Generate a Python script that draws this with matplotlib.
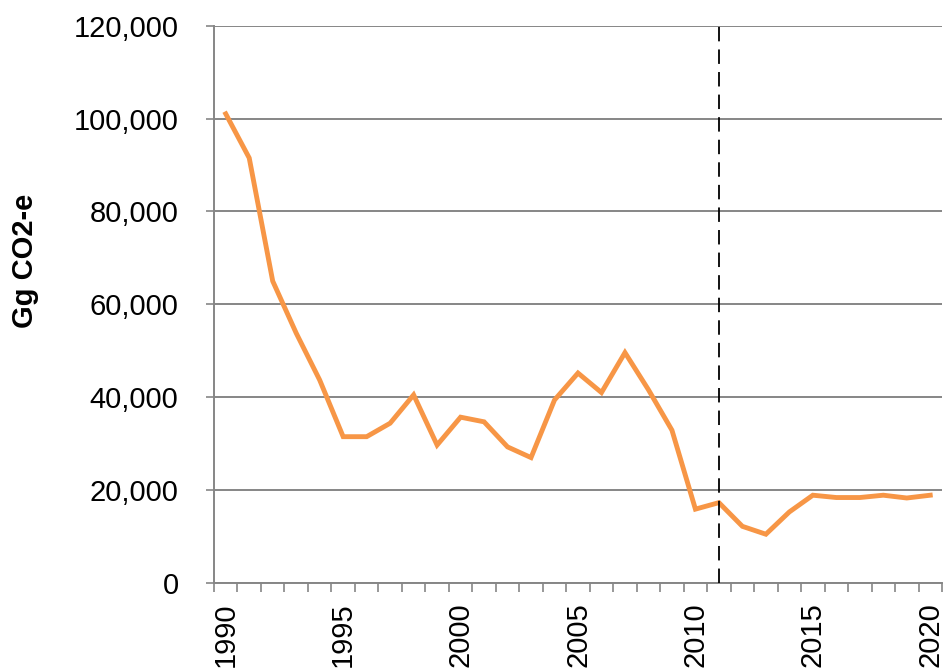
import numpy as np
import matplotlib
matplotlib.use('Agg')
import matplotlib.pyplot as plt
from matplotlib.ticker import FuncFormatter

plt.rcParams['font.family'] = ['Liberation Sans', 'DejaVu Sans']

# --- DATA ---
years = list(range(1990, 2021))
emissions = [101000, 91500, 65000, 53800, 43700, 31500, 31500, 34400, 40500, 29700,
             35700, 34700, 29300, 27000, 39400, 45200, 41000, 49600, 41600, 32900,
             15900, 17300, 12200, 10500, 15300, 18900, 18400, 18400, 18900, 18300,
             18900]
label_years = [1990, 1995, 2000, 2005, 2010, 2015, 2020]
marker_year = 2011
y_ticks = [0, 20000, 40000, 60000, 80000, 100000, 120000]

GRID = '#868686'
ORANGE = '#F79646'

# --- PLOT ---
fig = plt.figure(figsize=(9.43, 6.7), dpi=100)
ax = fig.add_axes([214 / 943, 1 - 583 / 670, 728 / 943, (583 - 25.6) / 670])

idx = np.arange(len(years))
ax.plot(idx, emissions, color=ORANGE, linewidth=3.5, solid_joinstyle='miter', zorder=3)

# dashed marker line
ax.axvline(years.index(marker_year), color='black', linewidth=1.3,
           dashes=(8, 4.5), zorder=4)

ax.set_xlim(-0.5, len(years) - 0.5)
ax.set_ylim(0, 120000)

# x axis: labels every five years, ticks between categories
ax.set_xticks([years.index(y) for y in label_years])
ax.set_xticklabels([str(y) for y in label_years], fontsize=21, rotation=90)
ax.set_xticks(np.arange(-0.5, len(years), 1), minor=True)
ax.tick_params(axis='x', which='major', length=0, pad=14)
ax.tick_params(axis='x', which='minor', length=6.5, width=1.2, color=GRID, direction='out')

# y axis
ax.set_yticks(y_ticks)
ax.yaxis.set_major_formatter(FuncFormatter(lambda v, p: f'{int(v):,}'))
ax.tick_params(axis='y', which='major', length=5.5, width=1.2, color=GRID, pad=20,
               labelsize=21)

ax.yaxis.grid(True, color=GRID, linewidth=1.4, zorder=1)
ax.set_axisbelow(True)

for side in ['top', 'right']:
    ax.spines[side].set_visible(False)
for side in ['left', 'bottom']:
    ax.spines[side].set_color(GRID)
    ax.spines[side].set_linewidth(1.4)

fig.text(25 / 943, 1 - 261 / 670, 'Gg CO2-e', rotation=90, ha='center', va='center',
         fontsize=21, fontweight='bold')

fig.savefig('out.png', dpi=100)
